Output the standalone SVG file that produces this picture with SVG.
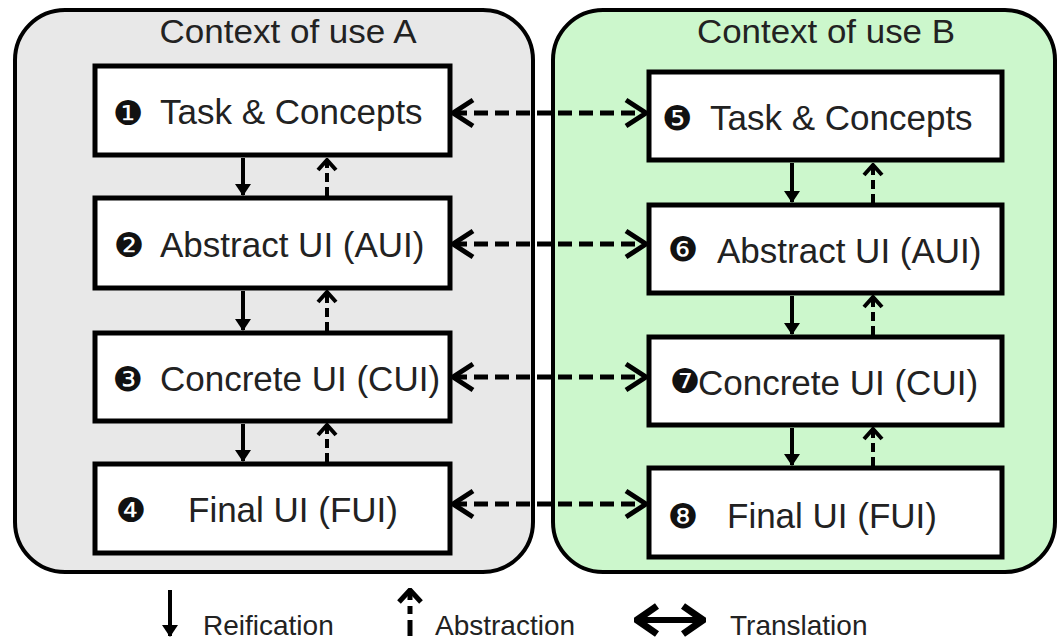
<svg xmlns="http://www.w3.org/2000/svg" width="1058" height="640" viewBox="0 0 1058 640">
<style>
.ctx{stroke:#000;stroke-width:4}
.box{fill:#fff;stroke:#000;stroke-width:5}
.lbl{font-family:"Liberation Sans",Arial,sans-serif;font-size:35px;fill:#222}
.ttl{font-family:"Liberation Sans",Arial,sans-serif;font-size:34px;fill:#222}
.bul{font-family:"DejaVu Sans",sans-serif;font-size:34px;fill:#111}
.leg{font-family:"Liberation Sans",Arial,sans-serif;font-size:28px;fill:#222}
.tr{stroke:#000;stroke-width:5;stroke-dasharray:14 7;fill:none;marker-start:url(#chev);marker-end:url(#chev)}
.rei{stroke:#000;stroke-width:4;fill:none;marker-end:url(#tri)}
.abs{stroke:#000;stroke-width:4;stroke-dasharray:9 5;fill:none;marker-end:url(#up)}
</style>
<defs>
<marker id="chev" markerUnits="userSpaceOnUse" viewBox="0 0 26 32" refX="23" refY="16" markerWidth="26" markerHeight="32" orient="auto-start-reverse">
<path d="M3,3 L23,16 L3,29" fill="none" stroke="#000" stroke-width="5"/>
</marker>
<marker id="tri" markerUnits="userSpaceOnUse" viewBox="0 0 12 16" refX="11" refY="8" markerWidth="12" markerHeight="16" orient="auto">
<path d="M0,0 L12,8 L0,16 z" fill="#000"/>
</marker>
<marker id="up" markerUnits="userSpaceOnUse" viewBox="0 0 14 22" refX="12" refY="11" markerWidth="14" markerHeight="22" orient="auto">
<path d="M2,2 L12,11 L2,20" fill="none" stroke="#000" stroke-width="4"/>
</marker>
<marker id="upL" markerUnits="userSpaceOnUse" viewBox="0 0 16 26" refX="14" refY="13" markerWidth="16" markerHeight="26" orient="auto">
<path d="M2,2 L14,13 L2,24" fill="none" stroke="#000" stroke-width="5"/>
</marker>
<marker id="chevB" markerUnits="userSpaceOnUse" viewBox="0 0 26 34" refX="24" refY="17" markerWidth="26" markerHeight="34" orient="auto-start-reverse">
<path d="M3,3 L23,17 L3,31" fill="none" stroke="#000" stroke-width="7"/>
</marker>
</defs>

<g id="contextA">
<rect class="ctx" x="15" y="10" width="518" height="562" rx="50" ry="50" fill="#e8e8e8"/>
<text class="ttl" x="288" y="43" text-anchor="middle" textLength="257" lengthAdjust="spacingAndGlyphs">Context of use A</text>
</g>
<g id="contextB">
<rect class="ctx" x="553" y="10" width="502" height="562" rx="50" ry="50" fill="#ccf7cc"/>
<text class="ttl" x="826" y="43" text-anchor="middle" textLength="258" lengthAdjust="spacingAndGlyphs">Context of use B</text>
</g>

<g id="a1">
<rect class="box" x="95" y="66" width="355" height="89"/>
<text class="bul" x="128" y="125" text-anchor="middle">❶</text>
<text class="lbl" x="160" y="124">Task &amp; Concepts</text>
</g>
<g id="a2">
<rect class="box" x="95" y="198" width="355" height="90"/>
<text class="bul" x="129" y="257" text-anchor="middle">❷</text>
<text class="lbl" x="160" y="257">Abstract UI (AUI)</text>
</g>
<g id="a3">
<rect class="box" x="95" y="333" width="355" height="88"/>
<text class="bul" x="128" y="391" text-anchor="middle">❸</text>
<text class="lbl" x="160" y="391">Concrete UI (CUI)</text>
</g>
<g id="a4">
<rect class="box" x="95" y="464" width="355" height="89"/>
<text class="bul" x="131" y="522" text-anchor="middle">❹</text>
<text class="lbl" x="188" y="522">Final UI (FUI)</text>
</g>

<g id="b5">
<rect class="box" x="649" y="72" width="353" height="88"/>
<text class="bul" x="677" y="130" text-anchor="middle">❺</text>
<text class="lbl" x="710" y="130">Task &amp; Concepts</text>
</g>
<g id="b6">
<rect class="box" x="649" y="205" width="353" height="88"/>
<text class="bul" x="683" y="261" text-anchor="middle">❻</text>
<text class="lbl" x="717" y="263">Abstract UI (AUI)</text>
</g>
<g id="b7">
<rect class="box" x="649" y="337" width="353" height="88"/>
<text class="bul" x="685" y="393" text-anchor="middle">❼</text>
<text class="lbl" x="698" y="395">Concrete UI (CUI)</text>
</g>
<g id="b8">
<rect class="box" x="649" y="468" width="353" height="89"/>
<text class="bul" x="683" y="528" text-anchor="middle">❽</text>
<text class="lbl" x="727" y="528">Final UI (FUI)</text>
</g>

<g id="connectors">
<line class="tr" x1="453" y1="113" x2="646" y2="113"/>
<line class="tr" x1="453" y1="244" x2="646" y2="244"/>
<line class="tr" x1="453" y1="377" x2="646" y2="377"/>
<line class="tr" x1="453" y1="504" x2="646" y2="504"/>

<line class="rei" x1="243" y1="158" x2="243" y2="195"/>
<line class="rei" x1="243" y1="291" x2="243" y2="330"/>
<line class="rei" x1="243" y1="424" x2="243" y2="461"/>
<line class="abs" x1="327" y1="196" x2="327" y2="160"/>
<line class="abs" x1="327" y1="331" x2="327" y2="292"/>
<line class="abs" x1="327" y1="462" x2="327" y2="425"/>

<line class="rei" x1="792" y1="163" x2="792" y2="202"/>
<line class="rei" x1="792" y1="296" x2="792" y2="334"/>
<line class="rei" x1="792" y1="428" x2="792" y2="465"/>
<line class="abs" x1="873" y1="203" x2="873" y2="165"/>
<line class="abs" x1="873" y1="335" x2="873" y2="297"/>
<line class="abs" x1="873" y1="466" x2="873" y2="429"/>
</g>

<g id="legend">
<line class="rei" x1="170" y1="590" x2="170" y2="636"/>
<text class="leg" x="203" y="635">Reification</text>
<line x1="410" y1="636" x2="410" y2="590" stroke="#000" stroke-width="5" stroke-dasharray="16 6 8 6" marker-end="url(#upL)"/>
<text class="leg" x="435" y="635">Abstraction</text>
<line x1="636" y1="620" x2="704" y2="620" stroke="#000" stroke-width="6" marker-start="url(#chevB)" marker-end="url(#chevB)"/>
<text class="leg" x="730" y="635">Translation</text>
</g>
</svg>
